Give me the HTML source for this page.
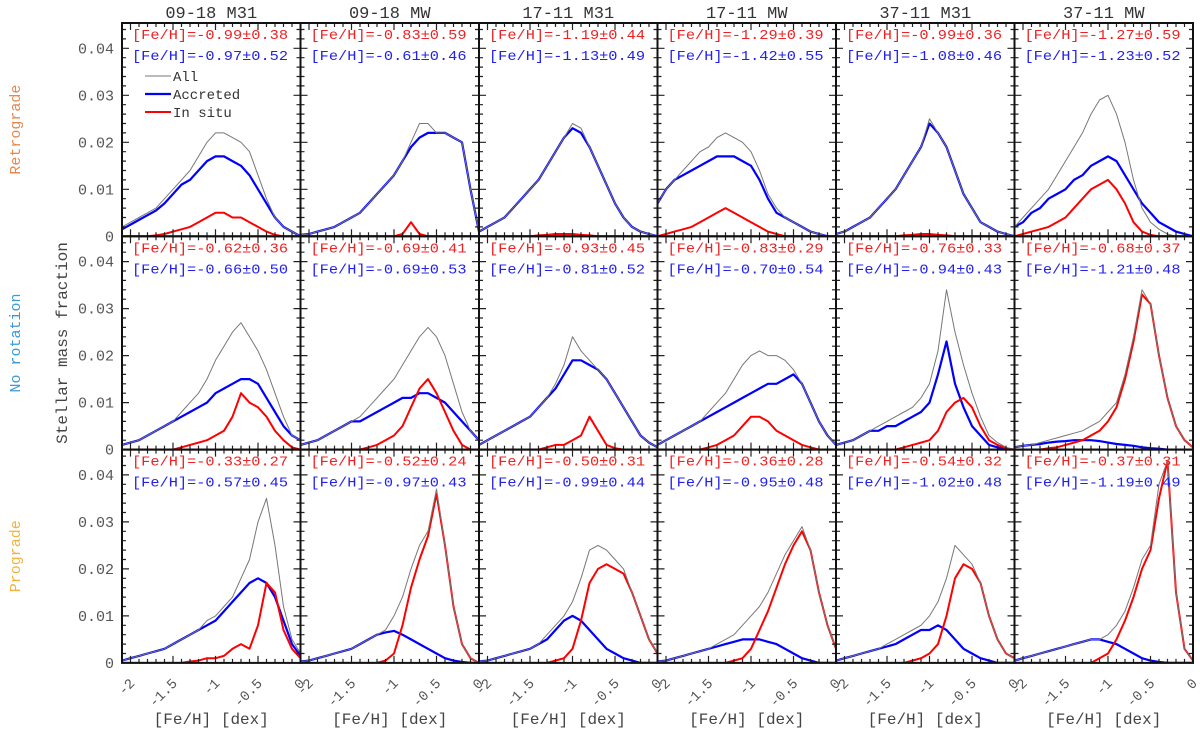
<!DOCTYPE html>
<html><head><meta charset="utf-8"><style>
body{margin:0;background:#fff;}
svg{display:block;font-family:"Liberation Mono","DejaVu Sans Mono",monospace;}
</style></head><body>
<svg id="chart" width="1200" height="738" viewBox="0 0 1200 738" xmlns="http://www.w3.org/2000/svg"></svg>
<script>
const feh = [-2.1,-2.0,-1.9,-1.8,-1.7,-1.6,-1.5,-1.4,-1.3,-1.2,-1.1,-1.0,-0.9,-0.8,-0.7,-0.6,-0.5,-0.4,-0.3,-0.2,-0.1,0.0];
const colTitles = ["09-18 M31","09-18 MW","17-11 M31","17-11 MW","37-11 M31","37-11 MW"];
const rowTitles = ["Retrograde","No rotation","Prograde"];
const rowColors = ["#e8884f","#3a9ad9","#f2b33d"];
const xTicks = [-2,-1.5,-1,-0.5,0];
const xTickLabels = ["-2","-1.5","-1","-0.5","0"];
const yTicks = [0,0.01,0.02,0.03,0.04];
const yTickLabels = ["0","0.01","0.02","0.03","0.04"];
const redStats = ["-0.99±0.38","-0.83±0.59","-1.19±0.44","-1.29±0.39","-0.99±0.36","-1.27±0.59",
 "-0.62±0.36","-0.69±0.41","-0.93±0.45","-0.83±0.29","-0.76±0.33","-0.68±0.37",
 "-0.33±0.27","-0.52±0.24","-0.50±0.31","-0.36±0.28","-0.54±0.32","-0.37±0.31"];
const blueStats = ["-0.97±0.52","-0.61±0.46","-1.13±0.49","-1.42±0.55","-1.08±0.46","-1.23±0.52",
 "-0.66±0.50","-0.69±0.53","-0.81±0.52","-0.70±0.54","-0.94±0.43","-1.21±0.48",
 "-0.57±0.45","-0.97±0.43","-0.99±0.44","-0.95±0.48","-1.02±0.48","-1.19±0.49"];
const allSeries = [
[0.002,0.003,0.004,0.005,0.006,0.008,0.010,0.012,0.014,0.017,0.020,0.022,0.022,0.021,0.020,0.018,0.013,0.008,0.004,0.002,0.001,0],
[0.0003,0.0005,0.001,0.0015,0.002,0.003,0.004,0.005,0.007,0.009,0.011,0.013,0.016,0.020,0.024,0.024,0.022,0.022,0.021,0.020,0.010,0.001],
[0.001,0.002,0.003,0.004,0.006,0.008,0.010,0.012,0.015,0.018,0.021,0.024,0.023,0.019,0.015,0.011,0.007,0.004,0.002,0.001,0.0005,0],
[0.007,0.010,0.012,0.014,0.016,0.018,0.019,0.021,0.022,0.021,0.020,0.018,0.014,0.009,0.006,0.004,0.003,0.002,0.001,0.0005,0,0],
[0.0005,0.001,0.002,0.003,0.004,0.006,0.008,0.010,0.013,0.016,0.019,0.025,0.022,0.019,0.014,0.009,0.006,0.003,0.002,0.001,0.0005,0],
[0.002,0.004,0.006,0.008,0.010,0.013,0.016,0.019,0.022,0.026,0.029,0.030,0.026,0.020,0.012,0.006,0.003,0.0015,0.0005,0,0,0],
[0.001,0.0015,0.002,0.003,0.004,0.005,0.006,0.008,0.010,0.012,0.015,0.019,0.022,0.025,0.027,0.024,0.021,0.017,0.012,0.007,0.003,0.002],
[0.001,0.0015,0.002,0.003,0.004,0.005,0.006,0.007,0.009,0.011,0.013,0.015,0.018,0.021,0.024,0.026,0.024,0.020,0.014,0.008,0.004,0.002],
[0.001,0.002,0.003,0.004,0.005,0.006,0.007,0.009,0.011,0.014,0.018,0.024,0.021,0.019,0.017,0.015,0.012,0.009,0.006,0.003,0.0015,0.0005],
[0.001,0.002,0.003,0.004,0.005,0.006,0.008,0.010,0.012,0.015,0.018,0.020,0.021,0.020,0.020,0.019,0.017,0.014,0.010,0.006,0.003,0.001],
[0.001,0.0015,0.002,0.003,0.004,0.005,0.006,0.007,0.008,0.009,0.011,0.014,0.021,0.034,0.025,0.018,0.012,0.007,0.003,0.0015,0.0005,0],
[0.0005,0.0008,0.001,0.0015,0.002,0.0025,0.003,0.0035,0.004,0.005,0.006,0.008,0.010,0.016,0.024,0.034,0.031,0.020,0.011,0.005,0.002,0.0005],
[0.0005,0.001,0.0015,0.002,0.0025,0.003,0.004,0.005,0.006,0.007,0.009,0.010,0.012,0.014,0.018,0.022,0.030,0.035,0.025,0.012,0.005,0.002],
[0.0003,0.0005,0.001,0.0015,0.002,0.0025,0.003,0.004,0.005,0.006,0.007,0.010,0.014,0.020,0.025,0.028,0.037,0.025,0.012,0.004,0.001,0],
[0.0003,0.0005,0.001,0.0015,0.002,0.0025,0.003,0.004,0.006,0.008,0.010,0.013,0.018,0.024,0.025,0.024,0.022,0.020,0.015,0.010,0.005,0.002],
[0.0003,0.0005,0.001,0.0015,0.002,0.0025,0.003,0.004,0.005,0.006,0.008,0.010,0.012,0.015,0.019,0.023,0.026,0.029,0.024,0.015,0.008,0.003],
[0.0005,0.001,0.0015,0.002,0.0025,0.003,0.004,0.005,0.006,0.007,0.008,0.010,0.013,0.018,0.025,0.023,0.021,0.017,0.010,0.005,0.002,0.001],
[0.0005,0.001,0.0015,0.002,0.0025,0.003,0.0035,0.004,0.0045,0.005,0.005,0.006,0.008,0.011,0.016,0.022,0.025,0.038,0.043,0.015,0.003,0.0005]];
const accSeries = [
[0.0015,0.0025,0.0035,0.0045,0.0055,0.007,0.009,0.011,0.012,0.014,0.016,0.017,0.017,0.016,0.015,0.013,0.010,0.007,0.004,0.002,0.001,0],
[0.0003,0.0005,0.001,0.0015,0.002,0.003,0.004,0.005,0.007,0.009,0.011,0.013,0.016,0.019,0.021,0.022,0.022,0.022,0.021,0.020,0.010,0.001],
[0.001,0.002,0.003,0.004,0.006,0.008,0.010,0.012,0.015,0.018,0.021,0.023,0.022,0.019,0.015,0.011,0.007,0.004,0.002,0.001,0.0005,0],
[0.007,0.010,0.012,0.013,0.014,0.015,0.016,0.017,0.017,0.017,0.016,0.015,0.012,0.008,0.005,0.004,0.003,0.002,0.001,0.0005,0,0],
[0.0005,0.001,0.002,0.003,0.004,0.006,0.008,0.010,0.013,0.016,0.019,0.024,0.022,0.019,0.014,0.009,0.006,0.003,0.002,0.001,0.0005,0],
[0.002,0.003,0.005,0.006,0.008,0.009,0.010,0.012,0.013,0.015,0.016,0.017,0.016,0.013,0.010,0.007,0.005,0.003,0.002,0.001,0.0005,0],
[0.001,0.0015,0.002,0.003,0.004,0.005,0.006,0.007,0.008,0.009,0.010,0.012,0.013,0.014,0.015,0.015,0.014,0.011,0.008,0.005,0.003,0.002],
[0.001,0.0015,0.002,0.003,0.004,0.005,0.006,0.006,0.007,0.008,0.009,0.010,0.011,0.011,0.012,0.012,0.011,0.010,0.008,0.006,0.004,0.002],
[0.001,0.002,0.003,0.004,0.005,0.006,0.007,0.009,0.011,0.013,0.016,0.019,0.019,0.018,0.017,0.015,0.012,0.009,0.006,0.003,0.0015,0.0005],
[0.001,0.002,0.003,0.004,0.005,0.006,0.007,0.008,0.009,0.010,0.011,0.012,0.013,0.014,0.014,0.015,0.016,0.014,0.010,0.006,0.003,0.001],
[0.001,0.0015,0.002,0.003,0.004,0.004,0.005,0.005,0.006,0.007,0.008,0.010,0.016,0.023,0.014,0.009,0.005,0.003,0.001,0.0005,0,0],
[0.0005,0.0008,0.001,0.0012,0.0015,0.0017,0.0018,0.002,0.002,0.002,0.0018,0.0015,0.0012,0.001,0.0008,0.0005,0.0003,0.0002,0,0,0,0],
[0.0005,0.001,0.0015,0.002,0.0025,0.003,0.004,0.005,0.006,0.007,0.008,0.009,0.011,0.013,0.015,0.017,0.018,0.017,0.014,0.009,0.004,0.0015],
[0.0003,0.0005,0.001,0.0015,0.002,0.0025,0.003,0.004,0.005,0.006,0.0065,0.0068,0.006,0.005,0.004,0.003,0.002,0.001,0.0005,0.0002,0,0],
[0.0003,0.0005,0.001,0.0015,0.002,0.0025,0.003,0.004,0.005,0.007,0.009,0.010,0.009,0.007,0.005,0.003,0.002,0.001,0.0005,0,0,0],
[0.0003,0.0005,0.001,0.0015,0.002,0.0025,0.003,0.0035,0.004,0.0045,0.005,0.005,0.005,0.0045,0.004,0.003,0.002,0.001,0.0005,0,0,0],
[0.0005,0.001,0.0015,0.002,0.0025,0.003,0.0035,0.004,0.005,0.006,0.007,0.007,0.008,0.007,0.005,0.003,0.002,0.001,0.0005,0,0,0],
[0.0005,0.001,0.0015,0.002,0.0025,0.003,0.0035,0.004,0.0045,0.005,0.005,0.0045,0.004,0.003,0.002,0.001,0.0005,0.0002,0,0,0,0]];
const insituSeries = [
[0,0,0,0,0.0002,0.0005,0.001,0.0015,0.002,0.003,0.004,0.005,0.005,0.004,0.004,0.003,0.002,0.001,0.0003,0,0,0],
[0,0,0,0,0,0,0,0,0,0,0,0,0.0005,0.003,0.0005,0,0,0,0,0,0,0],
[0,0,0,0,0,0,0,0.0002,0.0003,0.0005,0.0005,0.0005,0.0003,0.0002,0,0,0,0,0,0,0,0],
[0,0.0005,0.001,0.0015,0.002,0.003,0.004,0.005,0.006,0.005,0.004,0.003,0.002,0.001,0.0005,0,0,0,0,0,0,0],
[0,0,0,0,0,0,0,0,0.0002,0.0003,0.0005,0.0005,0.0003,0.0002,0,0,0,0,0,0,0,0],
[0,0.0005,0.001,0.0015,0.002,0.003,0.004,0.006,0.008,0.010,0.011,0.012,0.010,0.007,0.003,0.001,0.0003,0,0,0,0,0],
[0,0,0,0,0,0,0,0.0005,0.001,0.0015,0.002,0.003,0.004,0.007,0.012,0.010,0.009,0.007,0.004,0.002,0.0005,0],
[0,0,0,0,0,0,0,0,0.0005,0.001,0.002,0.003,0.005,0.009,0.013,0.015,0.012,0.008,0.004,0.001,0,0],
[0,0,0,0,0,0,0,0,0.0005,0.001,0.001,0.002,0.003,0.007,0.004,0.001,0.0003,0,0,0,0,0],
[0,0,0,0,0,0,0.0005,0.001,0.002,0.003,0.005,0.007,0.007,0.006,0.004,0.003,0.002,0.001,0.0005,0,0,0],
[0,0,0,0,0,0,0,0,0.0005,0.001,0.0015,0.002,0.004,0.008,0.010,0.011,0.009,0.005,0.002,0.001,0.0003,0],
[0,0,0,0,0.0003,0.0005,0.001,0.0015,0.002,0.003,0.004,0.006,0.009,0.015,0.023,0.033,0.031,0.020,0.011,0.005,0.002,0.0005],
[0,0,0,0,0,0,0,0,0.0003,0.0005,0.001,0.001,0.0015,0.003,0.004,0.003,0.008,0.017,0.015,0.007,0.003,0.001],
[0,0,0,0,0,0,0,0,0,0,0.0005,0.002,0.008,0.016,0.022,0.027,0.036,0.025,0.012,0.004,0.001,0],
[0,0,0,0,0,0,0,0,0,0.0005,0.001,0.003,0.009,0.017,0.020,0.021,0.020,0.019,0.015,0.010,0.005,0.002],
[0,0,0,0,0,0,0,0,0,0.0005,0.001,0.003,0.007,0.011,0.016,0.021,0.025,0.028,0.024,0.015,0.008,0.003],
[0,0,0,0,0,0,0,0,0,0.0005,0.001,0.002,0.004,0.010,0.018,0.021,0.020,0.017,0.010,0.005,0.002,0.001],
[0,0,0,0,0,0,0,0,0,0,0.001,0.002,0.005,0.009,0.014,0.020,0.024,0.035,0.043,0.015,0.003,0.0005]];

const NS='http://www.w3.org/2000/svg';
const svg=document.getElementById('chart');
const L0=122, T0=23, PW=178.5, PH=213.3;
const XMIN=-2.1, XMAX=0, YMAX=PH/4700;
function mk(tag,attrs,parent){const e=document.createElementNS(NS,tag);for(const k in attrs)e.setAttribute(k,attrs[k]);(parent||svg).appendChild(e);return e;}
function xs(c,v){return L0+c*PW+(v-XMIN)/(XMAX-XMIN)*PW;}
function ys(r,v){return T0+(r+1)*PH-v/YMAX*PH;}

rowTitles.forEach((t,r)=>{
  const cy=T0+r*PH+PH/2;
  const e=mk('text',{x:20,y:cy,'font-size':15,fill:rowColors[r],'text-anchor':'middle',transform:`rotate(-90 20 ${cy})`});
  
  
  e.textContent=t;
});
const yt=mk('text',{x:67,y:343,'font-size':16,fill:'#444','text-anchor':'middle',transform:'rotate(-90 67 343)'});


yt.textContent='Stellar mass fraction';

colTitles.forEach((t,c)=>{
  const e=mk('text',{x:L0+c*PW+PW/2,y:18,'font-size':17,fill:'#333','text-anchor':'middle'});
  
  
  e.textContent=t;
  const xl=mk('text',{x:L0+c*PW+PW/2,y:724,'font-size':16,fill:'#444','text-anchor':'middle'});
  
  
  xl.textContent='[Fe/H] [dex]';
  xTicks.forEach((v,i)=>{
    const x=xs(c,v)+5, y=684;
    const tl=mk('text',{x:x,y:y,'font-size':14,fill:'#555','text-anchor':'end',transform:`rotate(-45 ${x} ${y})`});
    
    
    tl.textContent=xTickLabels[i];
  });
});
[0,1,2].forEach(r=>yTicks.forEach((v,i)=>{
  const e=mk('text',{x:L0-8,y:ys(r,v)+5,'font-size':15,fill:'#555','text-anchor':'end'});
  
  
  e.textContent=yTickLabels[i];
}));

function path(c,r,vals){return vals.map((v,i)=>(i?'L':'M')+xs(c,feh[i]).toFixed(1)+','+ys(r,v).toFixed(1)).join('');}

for(let r=0;r<3;r++)for(let c=0;c<6;c++){
  const k=r*6+c;
  const g=mk('g',{});
  
  
  const x0=L0+c*PW, y0=T0+r*PH;
  const cp=mk('clipPath',{id:'cp'+k},g);
  mk('rect',{x:x0,y:y0,width:PW,height:PH},cp);
  const inner=mk('g',{'clip-path':`url(#cp${k})`},g);
  const pa=mk('path',{d:path(c,r,accSeries[k]),fill:'none',stroke:'#0000ff','stroke-width':2.2,'stroke-linejoin':'round'},inner);
  
  
  const pi=mk('path',{d:path(c,r,insituSeries[k]),fill:'none',stroke:'#ff0000','stroke-width':2,'stroke-linejoin':'round'},inner);
  
  
  const pl=mk('path',{d:path(c,r,allSeries[k]),fill:'none',stroke:'#777','stroke-width':1,'stroke-linejoin':'round'},inner);
  
  
  let tk='';
  for(let v=-2.1;v<=0.001;v+=0.1){const x=xs(c,v);const maj=Math.abs(v*2-Math.round(v*2))<0.01;const l=maj?7:4;tk+=`M${x},${y0+PH}v${-l}M${x},${y0}v${l}`;}
  for(let i=0;i*0.002<=YMAX;i++){const y=ys(r,i*0.002);const l=(i%5==0)?7:4;tk+=`M${x0},${y}h${l}M${x0+PW},${y}h${-l}`;}
  mk('path',{d:tk,stroke:'#222','stroke-width':1.2,fill:'none'},g);
  mk('rect',{x:x0,y:y0,width:PW,height:PH,fill:'none',stroke:'#111','stroke-width':2},g);
  const t1=mk('text',{x:x0+10,y:y0+16,'font-size':14,fill:'#ee2222',textLength:156,lengthAdjust:'spacingAndGlyphs'},g);
  
  
  t1.textContent='[Fe/H]='+redStats[k];
  const t2=mk('text',{x:x0+10,y:y0+37,'font-size':14,fill:'#2222ee',textLength:156,lengthAdjust:'spacingAndGlyphs'},g);
  
  
  t2.textContent='[Fe/H]='+blueStats[k];
}
const lg=mk('g',{});


[['All','#777',1,76],['Accreted','#0000ff',2.2,94],['In situ','#ff0000',2,112]].forEach(([t,col,w,y])=>{
  mk('line',{x1:145,x2:171,y1:y,y2:y,stroke:col,'stroke-width':w},lg);
  const e=mk('text',{x:173,y:y+5,'font-size':14,fill:'#333'},lg);
  
  
  e.textContent=t;
});
</script>
</body></html>
